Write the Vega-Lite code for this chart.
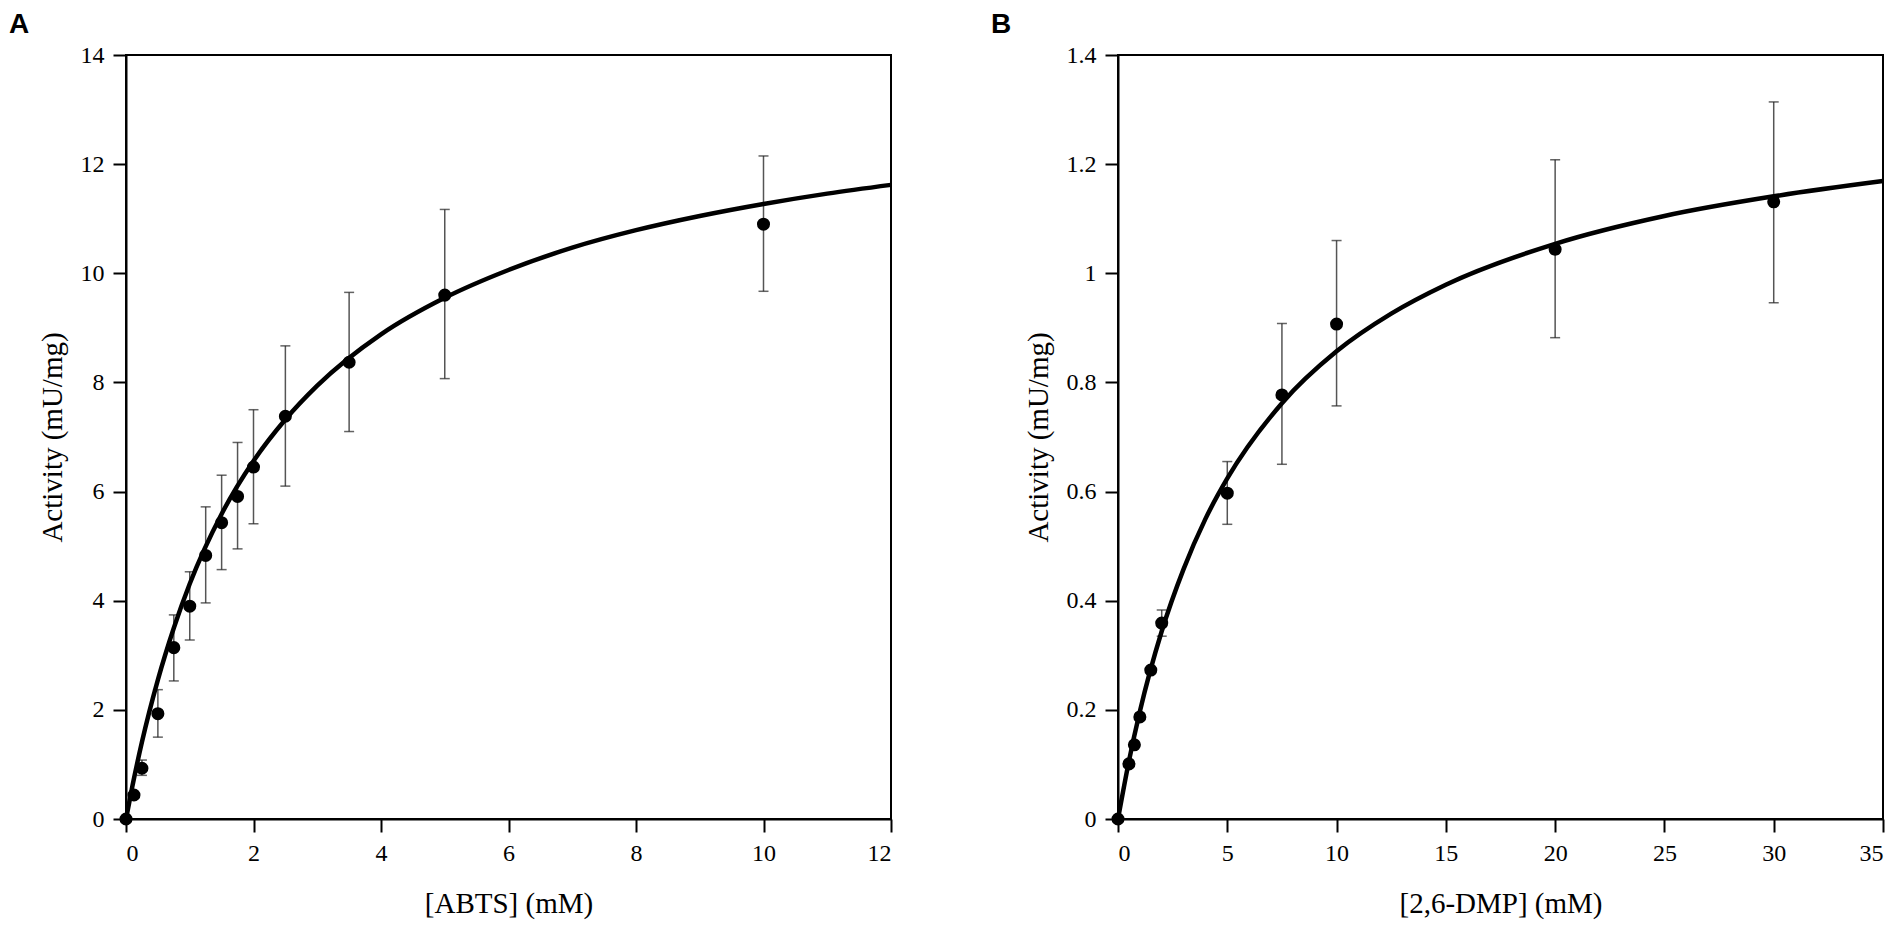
{
  "$schema": "https://vega.github.io/schema/vega-lite/v6.json",
  "padding": {"left": 8, "top": 10, "right": 10, "bottom": 5},
  "background": "white",
  "datasets": {
    "abts_pts": [
      {"x": 0, "y": 0, "lo": null, "hi": null},
      {"x": 0.125, "y": 0.44, "lo": null, "hi": null},
      {"x": 0.25, "y": 0.93, "lo": 0.8, "hi": 1.08},
      {"x": 0.5, "y": 1.93, "lo": 1.5, "hi": 2.37},
      {"x": 0.75, "y": 3.14, "lo": 2.53, "hi": 3.74},
      {"x": 1, "y": 3.9, "lo": 3.28, "hi": 4.53},
      {"x": 1.25, "y": 4.83, "lo": 3.96, "hi": 5.72},
      {"x": 1.5, "y": 5.43, "lo": 4.57, "hi": 6.3},
      {"x": 1.75, "y": 5.91, "lo": 4.95, "hi": 6.9},
      {"x": 2, "y": 6.45, "lo": 5.41, "hi": 7.5},
      {"x": 2.5, "y": 7.38, "lo": 6.1, "hi": 8.67},
      {"x": 3.5, "y": 8.37, "lo": 7.1, "hi": 9.65},
      {"x": 5, "y": 9.6, "lo": 8.07, "hi": 11.17},
      {"x": 10, "y": 10.9, "lo": 9.67, "hi": 12.15}
    ],
    "abts_fit": [
      {"x": 0, "y": 0},
      {"x": 0.1, "y": 0.6},
      {"x": 0.25, "y": 1.41},
      {"x": 0.5, "y": 2.55},
      {"x": 0.75, "y": 3.5},
      {"x": 1, "y": 4.31},
      {"x": 1.5, "y": 5.59},
      {"x": 2, "y": 6.56},
      {"x": 2.5, "y": 7.32},
      {"x": 3, "y": 7.94},
      {"x": 4, "y": 8.88},
      {"x": 5, "y": 9.55},
      {"x": 6, "y": 10.06},
      {"x": 7, "y": 10.47},
      {"x": 8, "y": 10.79},
      {"x": 9, "y": 11.05},
      {"x": 10, "y": 11.27},
      {"x": 11, "y": 11.46},
      {"x": 12, "y": 11.62}
    ],
    "dmp_pts": [
      {"x": 0, "y": 0, "lo": null, "hi": null},
      {"x": 0.5, "y": 0.101, "lo": null, "hi": null},
      {"x": 0.75, "y": 0.136, "lo": null, "hi": null},
      {"x": 1, "y": 0.187, "lo": null, "hi": null},
      {"x": 1.5, "y": 0.273, "lo": null, "hi": null},
      {"x": 2, "y": 0.359, "lo": 0.335, "hi": 0.383},
      {"x": 5, "y": 0.597, "lo": 0.54, "hi": 0.655},
      {"x": 7.5, "y": 0.777, "lo": 0.65, "hi": 0.908},
      {"x": 10, "y": 0.907, "lo": 0.757, "hi": 1.06},
      {"x": 20, "y": 1.044, "lo": 0.882, "hi": 1.208},
      {"x": 30, "y": 1.131, "lo": 0.946, "hi": 1.314}
    ],
    "dmp_fit": [
      {"x": 0, "y": 0},
      {"x": 0.5, "y": 0.106},
      {"x": 1, "y": 0.197},
      {"x": 2, "y": 0.344},
      {"x": 3, "y": 0.458},
      {"x": 4, "y": 0.55},
      {"x": 5, "y": 0.624},
      {"x": 7.5, "y": 0.762},
      {"x": 10, "y": 0.857},
      {"x": 12.5, "y": 0.926},
      {"x": 15, "y": 0.979},
      {"x": 20, "y": 1.054},
      {"x": 25, "y": 1.105},
      {"x": 30, "y": 1.141},
      {"x": 35, "y": 1.169}
    ]
  },
  "spacing": 89,
  "hconcat": [
    {
      "width": 765,
      "height": 764,
      "title": {"text": "A", "dx": -117},
      "layer": [
        {
          "data": {"name": "abts_pts"},
          "transform": [{"filter": "datum.lo != null"}],
          "mark": {"type": "rule", "color": "#555", "strokeWidth": 1.5},
          "encoding": {
            "x": {"field": "x", "type": "quantitative", "scale": {"domain": [0, 12], "nice": false}, "axis": {"values": [0, 2, 4, 6, 8, 10, 12], "format": "d", "labelFont": "Liberation Serif", "labelFontSize": 24, "title": "[ABTS] (mM)"}},
            "y": {"field": "lo", "type": "quantitative", "scale": {"domain": [0, 14], "nice": false}, "axis": {"values": [0, 2, 4, 6, 8, 10, 12, 14], "format": "d", "labelFont": "Liberation Serif", "labelFontSize": 24, "title": "Activity (mU/mg)"}},
            "y2": {"field": "hi"}
          }
        },
        {
          "data": {"name": "abts_pts"},
          "transform": [{"filter": "datum.lo != null"}],
          "mark": {"type": "tick", "orient": "horizontal", "color": "#222", "thickness": 1.5, "size": 10},
          "encoding": {
            "x": {"field": "x", "type": "quantitative"},
            "y": {"field": "lo", "type": "quantitative"}
          }
        },
        {
          "data": {"name": "abts_pts"},
          "transform": [{"filter": "datum.hi != null"}],
          "mark": {"type": "tick", "orient": "horizontal", "color": "#222", "thickness": 1.5, "size": 10},
          "encoding": {
            "x": {"field": "x", "type": "quantitative"},
            "y": {"field": "hi", "type": "quantitative"}
          }
        },
        {
          "data": {"name": "abts_fit"},
          "mark": {"type": "line", "color": "black", "strokeWidth": 4.5, "interpolate": "monotone"},
          "encoding": {
            "x": {"field": "x", "type": "quantitative"},
            "y": {"field": "y", "type": "quantitative"}
          }
        },
        {
          "data": {"name": "abts_pts"},
          "mark": {"type": "circle", "color": "black", "opacity": 1, "size": 170},
          "encoding": {
            "x": {"field": "x", "type": "quantitative"},
            "y": {"field": "y", "type": "quantitative"}
          }
        }
      ]
    },
    {
      "width": 765,
      "height": 764,
      "title": {"text": "B", "dx": -127},
      "layer": [
        {
          "data": {"name": "dmp_pts"},
          "transform": [{"filter": "datum.lo != null"}],
          "mark": {"type": "rule", "color": "#555", "strokeWidth": 1.5},
          "encoding": {
            "x": {"field": "x", "type": "quantitative", "scale": {"domain": [0, 35], "nice": false}, "axis": {"values": [0, 5, 10, 15, 20, 25, 30, 35], "format": "d", "labelFont": "Liberation Serif", "labelFontSize": 24, "title": "[2,6-DMP] (mM)"}},
            "y": {"field": "lo", "type": "quantitative", "scale": {"domain": [0, 1.4], "nice": false}, "axis": {"values": [0, 0.2, 0.4, 0.6, 0.8, 1, 1.2, 1.4], "format": "~g", "labelFont": "Liberation Serif", "labelFontSize": 24, "title": "Activity (mU/mg)"}},
            "y2": {"field": "hi"}
          }
        },
        {
          "data": {"name": "dmp_pts"},
          "transform": [{"filter": "datum.lo != null"}],
          "mark": {"type": "tick", "orient": "horizontal", "color": "#222", "thickness": 1.5, "size": 10},
          "encoding": {
            "x": {"field": "x", "type": "quantitative"},
            "y": {"field": "lo", "type": "quantitative"}
          }
        },
        {
          "data": {"name": "dmp_pts"},
          "transform": [{"filter": "datum.hi != null"}],
          "mark": {"type": "tick", "orient": "horizontal", "color": "#222", "thickness": 1.5, "size": 10},
          "encoding": {
            "x": {"field": "x", "type": "quantitative"},
            "y": {"field": "hi", "type": "quantitative"}
          }
        },
        {
          "data": {"name": "dmp_fit"},
          "mark": {"type": "line", "color": "black", "strokeWidth": 4.5, "interpolate": "monotone"},
          "encoding": {
            "x": {"field": "x", "type": "quantitative"},
            "y": {"field": "y", "type": "quantitative"}
          }
        },
        {
          "data": {"name": "dmp_pts"},
          "mark": {"type": "circle", "color": "black", "opacity": 1, "size": 170},
          "encoding": {
            "x": {"field": "x", "type": "quantitative"},
            "y": {"field": "y", "type": "quantitative"}
          }
        }
      ]
    }
  ],
  "config": {
    "font": "Liberation Serif",
    "view": {"stroke": "black", "strokeWidth": 2},
    "axis": {
      "grid": false,
      "domainColor": "black",
      "domainWidth": 2,
      "tickColor": "black",
      "tickWidth": 2,
      "tickSize": 13,
      "labelFont": "Liberation Serif",
      "labelFontSize": 24,
      "labelColor": "black",
      "labelPadding": 9,
      "titleFont": "Liberation Serif",
      "titleFontSize": 29,
      "titleFontWeight": "normal",
      "titleColor": "black"
    },
    "axisX": {"titlePadding": 24},
    "axisY": {"titlePadding": 13},
    "title": {
      "font": "Liberation Sans",
      "fontSize": 28,
      "fontWeight": "bold",
      "color": "black",
      "anchor": "start",
      "frame": "group",
      "baseline": "alphabetic",
      "offset": 4
    }
  }
}
